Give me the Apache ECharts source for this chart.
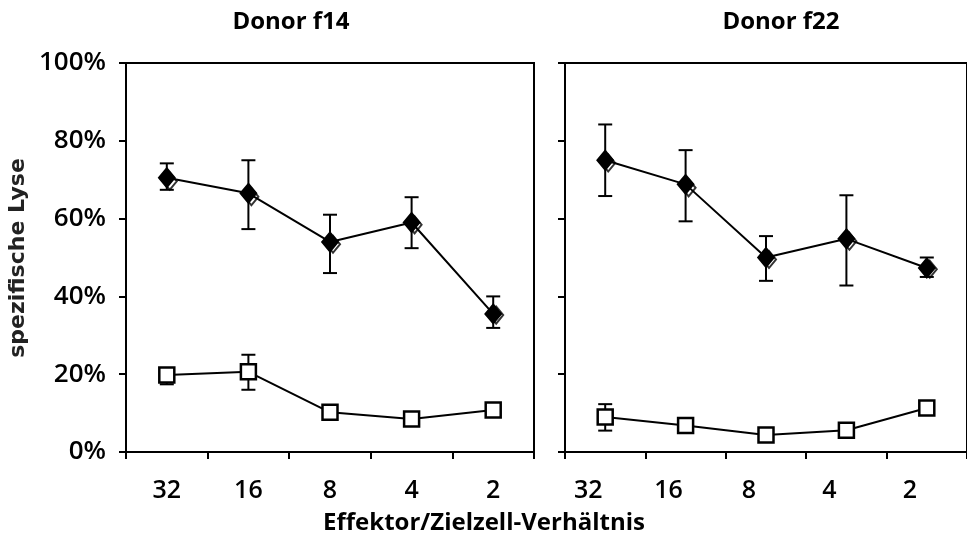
<!DOCTYPE html>
<html><head><meta charset="utf-8">
<script src="https://cdn.jsdelivr.net/npm/echarts@6/dist/echarts.min.js"></script>
<style>html,body{margin:0;padding:0;background:#fff}#c{width:967px;height:545px}</style>
</head><body><div id="c"></div>
<script>
const categories = ['32', '16', '8', '4', '2'];
const yTicks = [0, 20, 40, 60, 80, 100];
const panelTitles = ['Donor f14', 'Donor f22'];

const f14Filled = [70.5, 66.5, 54, 59, 35.5];
const f14FilledLow = [67.4, 57.3, 46, 52.4, 31.9];
const f14FilledHigh = [74.2, 75, 61, 65.5, 40];
const f14Open = [69.6, 65.6, 53.4, 58.4, 35.2];
const f14Square = [19.8, 20.6, 10.2, 8.5, 10.8];
const f14SquareLow = [17.4, 16, 9.3, 7.7, 10];
const f14SquareHigh = [21.6, 25, 11, 9.3, 11.6];

const f22Filled = [75, 68.8, 50, 54.8, 47.3];
const f22FilledLow = [65.8, 59.3, 44, 42.8, 45];
const f22FilledHigh = [84.2, 77.6, 55.5, 66, 50];
const f22Open = [74.3, 67.9, 49.5, 54.2, 47.0];
const f22Square = [9, 6.8, 4.4, 5.6, 11.3];
const f22SquareLow = [5.5, 6, 3.8, 5, 10];
const f22SquareHigh = [12.3, 7.6, 5, 6.2, 12.6];

const FONT = 'Open Sans';
const chart = echarts.init(document.getElementById('c'));

function errSeries(idx, low, high) {
  return {
    type: 'custom', xAxisIndex: idx, yAxisIndex: idx, z: 1,
    data: categories.map((c, i) => [i, low[i], high[i]]),
    encode: { x: 0, y: [1, 2] },
    renderItem: function (params, api) {
      const x = api.value(0);
      const lo = api.coord([x, api.value(1)]);
      const hi = api.coord([x, api.value(2)]);
      const w = 7;
      const st = { stroke: '#000', lineWidth: 2 };
      return { type: 'group', children: [
        { type: 'line', shape: { x1: lo[0], y1: lo[1], x2: hi[0], y2: hi[1] }, style: st },
        { type: 'line', shape: { x1: lo[0] - w, y1: lo[1], x2: lo[0] + w, y2: lo[1] }, style: st },
        { type: 'line', shape: { x1: hi[0] - w, y1: hi[1], x2: hi[0] + w, y2: hi[1] }, style: st }
      ]};
    }
  };
}
function lineSeries(idx, data, symbol, size, fill) {
  return {
    type: 'line', xAxisIndex: idx, yAxisIndex: idx, z: 3, data: data,
    symbol: symbol, symbolSize: size, showAllSymbol: true,
    lineStyle: { color: '#000', width: 2 },
    itemStyle: { color: fill, borderColor: '#000', borderWidth: 2.5 },
    animation: false
  };
}
function openDiamond(idx, data) {
  return {
    type: 'scatter', xAxisIndex: idx, yAxisIndex: idx, z: 4, data: data,
    symbol: 'diamond', symbolSize: [14, 17], symbolOffset: [3, 0],
    itemStyle: { color: 'rgba(255,255,255,0)', borderColor: '#000', borderWidth: 2 },
    animation: false
  };
}
function xAxis(idx, pad) {
  return {
    type: 'category', gridIndex: idx, data: categories, boundaryGap: true,
    axisLine: { lineStyle: { color: '#000', width: 2 } },
    axisTick: { show: true, length: 7, lineStyle: { color: '#000', width: 2 } },
    axisLabel: { color: '#000', fontFamily: FONT, fontWeight: 600, fontSize: 25, margin: 26, padding: pad }
  };
}
function yAxis(idx, showLabel) {
  return {
    type: 'value', gridIndex: idx, min: 0, max: 100, interval: 20,
    axisLine: { show: true, lineStyle: { color: '#000', width: 2 } },
    axisTick: { show: true, length: 7, lineStyle: { color: '#000', width: 2 } },
    splitLine: { show: false },
    axisLabel: { show: showLabel, color: '#000', fontFamily: FONT, fontWeight: 600, fontSize: 26, margin: 20,
      formatter: v => yTicks.includes(v) ? v + '%' : '' }
  };
}

chart.setOption({
  animation: false,
  backgroundColor: '#fff',
  grid: [
    { left: 126, top: 63, width: 408, height: 389, show: true, borderColor: '#000', borderWidth: 2 },
    { left: 565, top: 63, width: 410, height: 389, show: true, borderColor: '#000', borderWidth: 2 }
  ],
  xAxis: [xAxis(0, [0, 0, 0, 0]), xAxis(1, [0, 34, 0, 0])],
  yAxis: [yAxis(0, true), yAxis(1, false)],
  graphic: [
    { type: 'text', x: 291, y: 22, style: { text: panelTitles[0], fontFamily: FONT, fontWeight: 700, fontSize: 24, fill: '#000', align: 'center', verticalAlign: 'middle' } },
    { type: 'text', x: 781, y: 22, style: { text: panelTitles[1], fontFamily: FONT, fontWeight: 700, fontSize: 24, fill: '#000', align: 'center', verticalAlign: 'middle' } },
    { type: 'text', x: 18, y: 258, rotation: Math.PI / 2,
      style: { text: 'spezifische Lyse', fontFamily: 'DejaVu Sans', fontWeight: 700, fontSize: 22, fill: '#222', align: 'center', verticalAlign: 'middle' } },
    { type: 'text', x: 484, y: 523,
      style: { text: 'Effektor/Zielzell-Verhältnis', fontFamily: FONT, fontWeight: 700, fontSize: 24, fill: '#000', align: 'center', verticalAlign: 'middle' } }
  ],
  series: [
    errSeries(0, f14FilledLow, f14FilledHigh),
    errSeries(0, f14SquareLow, f14SquareHigh),
    errSeries(1, f22FilledLow, f22FilledHigh),
    errSeries(1, f22SquareLow, f22SquareHigh),
    lineSeries(0, f14Filled, 'diamond', [15, 18], '#000'),
    lineSeries(0, f14Square, 'rect', 15, '#fff'),
    lineSeries(1, f22Filled, 'diamond', [15, 18], '#000'),
    lineSeries(1, f22Square, 'rect', 15, '#fff'),
    openDiamond(0, f14Open),
    openDiamond(1, f22Open)
  ]
});
</script></body></html>
